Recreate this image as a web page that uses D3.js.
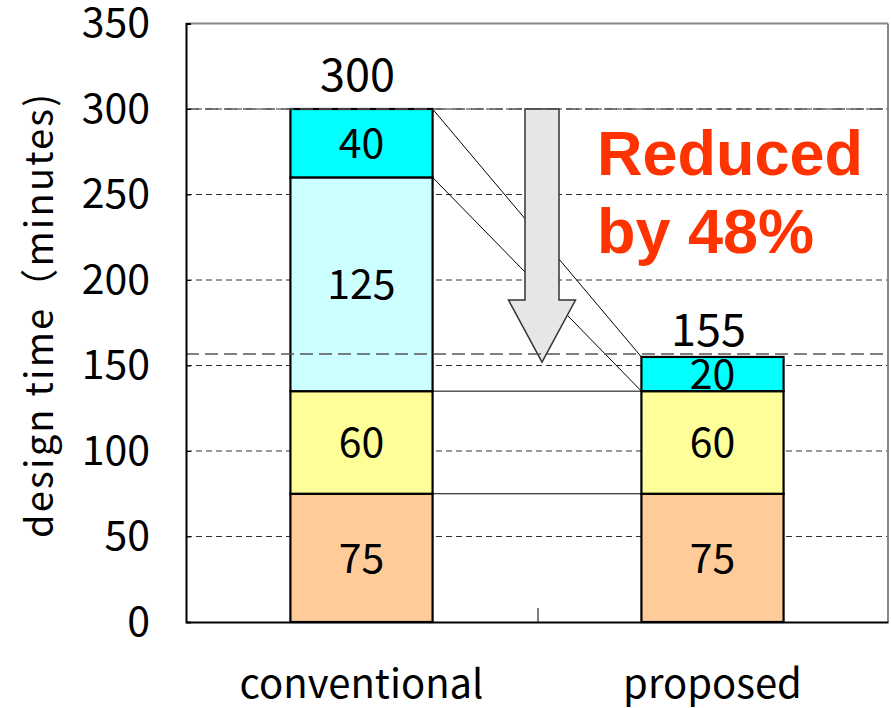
<!DOCTYPE html>
<html>
<head>
<meta charset="utf-8">
<script src="https://cdn.jsdelivr.net/npm/d3@7"></script>
<style>
  html, body { margin: 0; padding: 0; background: #fff; }
  svg { display: block; }
</style>
</head>
<body>
<svg id="chart" width="891" height="708"></svg>
<script>
// Design-time breakdown: conventional flow vs. proposed flow
const categories = ["conventional", "proposed"];
const segmentKeys = ["seg1", "seg2", "seg3", "seg4"];
const conventionalValues = [75, 60, 125, 40];
const proposedValues = [75, 60, 0, 20];
const segmentColors = ["#ffcc99", "#ffff99", "#ccffff", "#00ffff"];
const yTicks = [0, 50, 100, 150, 200, 250, 300, 350];
const totals = [300, 155];
const yTitle = "design time（minutes)";
const noteLines = ["Reduced", "by 48%"];

const svg = d3.select("#chart");
const plotLeft = 186, plotRight = 888, plotTop = 23.5, plotBottom = 622;
const labelFont = "'Noto Sans CJK JP', 'Noto Sans', sans-serif";

const x = d3.scaleBand().domain(categories).range([plotLeft, plotRight])
  .paddingInner(0.595).paddingOuter(0.2975);
const y = d3.scaleLinear().domain([0, 350]).range([plotBottom, plotTop]);

// Table of rows for stacking
const rows = categories.map((c, i) => {
  const vals = i === 0 ? conventionalValues : proposedValues;
  const r = { category: c };
  segmentKeys.forEach((k, j) => r[k] = vals[j]);
  return r;
});
const stacked = d3.stack().keys(segmentKeys)(rows);

// Gridlines
svg.append("g").selectAll("line")
  .data(yTicks.filter(t => t > 0 && t < 350))
  .join("line")
  .attr("x1", plotLeft).attr("x2", plotRight)
  .attr("y1", d => y(d)).attr("y2", d => y(d))
  .attr("stroke", "#333").attr("stroke-width", 1)
  .attr("stroke-dasharray", "6,4");

// Frame (top and right in grey)
svg.append("line").attr("x1", plotLeft).attr("x2", plotRight).attr("y1", y(350)).attr("y2", y(350))
  .attr("stroke", "#888").attr("stroke-width", 2);
svg.append("line").attr("x1", plotRight).attr("x2", plotRight).attr("y1", y(350)).attr("y2", y(0))
  .attr("stroke", "#888").attr("stroke-width", 2);

// Connector lines between the cumulative boundaries of both bars
const convTops = stacked.map(s => s[0][1]);
const propTops = stacked.map(s => s[1][1]);
svg.append("g").selectAll("line")
  .data(convTops.map((v, i) => [v, propTops[i]]))
  .join("line")
  .attr("x1", x("conventional") + x.bandwidth())
  .attr("x2", x("proposed"))
  .attr("y1", d => y(d[0])).attr("y2", d => y(d[1]))
  .attr("stroke", "#000").attr("stroke-width", 1);

// Stacked bars
stacked.forEach((series, si) => {
  const g = svg.append("g");
  g.selectAll("rect")
    .data(series.filter(d => d[1] - d[0] > 0))
    .join("rect")
    .attr("x", d => x(d.data.category))
    .attr("width", x.bandwidth())
    .attr("y", d => y(d[1]))
    .attr("height", d => y(d[0]) - y(d[1]))
    .attr("fill", segmentColors[si])
    .attr("stroke", "#000").attr("stroke-width", 2.2);
  g.selectAll("text")
    .data(series.filter(d => d[1] - d[0] > 0))
    .join("text")
    .attr("x", d => x(d.data.category) + x.bandwidth() / 2)
    .attr("y", d => (y(d[0]) + y(d[1])) / 2)
    .attr("dy", "0.36em")
    .attr("text-anchor", "middle")
    .attr("font-family", labelFont)
    .attr("font-size", 41)
    .attr("fill", "#000")
    .text(d => d[1] - d[0]);
});

// Reduction arrow, from the conventional total down toward the proposed total
const ax = (x("conventional") + x.bandwidth() + x("proposed")) / 2 + 5;
const aTop = y(300), aTip = y(152), headH = 62, shaftW = 17, headW = 33.5;
svg.append("path")
  .attr("d", `M${ax - shaftW},${aTop} L${ax + shaftW},${aTop} L${ax + shaftW},${aTip - headH}
              L${ax + headW},${aTip - headH} L${ax},${aTip} L${ax - headW},${aTip - headH}
              L${ax - shaftW},${aTip - headH} Z`)
  .attr("fill", "#e6e6e6").attr("stroke", "#333").attr("stroke-width", 1.5);

// Long-dash reference lines at the two totals
svg.append("g").selectAll("line")
  .data(totals)
  .join("line")
  .attr("x1", plotLeft).attr("x2", plotRight)
  .attr("y1", (d, i) => y(d) - (i === 1 ? 3 : 0)).attr("y2", (d, i) => y(d) - (i === 1 ? 3 : 0))
  .attr("stroke", "#555").attr("stroke-width", 1.5)
  .attr("stroke-dasharray", "13,6");

// Total labels
svg.append("g").selectAll("text")
  .data(totals)
  .join("text")
  .attr("x", (d, i) => x(categories[i]) + x.bandwidth() / 2 - 4)
  .attr("y", (d, i) => y(d) - (i === 0 ? 18 : 11))
  .attr("text-anchor", "middle")
  .attr("font-family", labelFont)
  .attr("font-size", 45)
  .attr("fill", "#000")
  .text(d => d);

// Y axis
const yAxis = d3.axisLeft(y).tickValues(yTicks).tickSize(-5).tickPadding(36);
const yg = svg.append("g").attr("transform", `translate(${plotLeft},0)`).call(yAxis);
yg.select(".domain").attr("stroke", "#000").attr("stroke-width", 2);
yg.selectAll(".tick line").attr("stroke", "#000");
yg.selectAll(".tick text")
  .attr("font-family", labelFont).attr("font-size", 41).attr("fill", "#000");

// X axis
const xAxis = d3.axisBottom(x).tickSize(0).tickPadding(48);
const xg = svg.append("g").attr("transform", `translate(0,${plotBottom})`).call(xAxis);
xg.select(".domain").attr("stroke", "#000").attr("stroke-width", 2);
xg.selectAll(".tick text")
  .attr("font-family", labelFont).attr("font-size", 40).attr("fill", "#000");
// divider tick between categories
svg.append("line")
  .attr("x1", (plotLeft + plotRight) / 2 + 1).attr("x2", (plotLeft + plotRight) / 2 + 1)
  .attr("y1", plotBottom).attr("y2", plotBottom - 14)
  .attr("stroke", "#000").attr("stroke-width", 1);

// Y axis title
svg.append("text")
  .attr("transform", `translate(40,${(y(0) + y(350)) / 2 - 8}) rotate(-90)`)
  .attr("dy", "0.35em")
  .attr("text-anchor", "middle")
  .attr("font-family", labelFont)
  .attr("font-size", 38)
  .attr("letter-spacing", 2.2)
  .attr("fill", "#000")
  .text(yTitle);

// Annotation
svg.append("g").selectAll("text")
  .data(noteLines)
  .join("text")
  .attr("x", 597)
  .attr("y", (d, i) => 175 + i * 78)
  .attr("font-family", "'Liberation Sans', Arial, sans-serif")
  .attr("font-weight", "bold")
  .attr("font-size", 63)
  .attr("fill", "#ff3300")
  .text(d => d);
</script>
</body>
</html>
